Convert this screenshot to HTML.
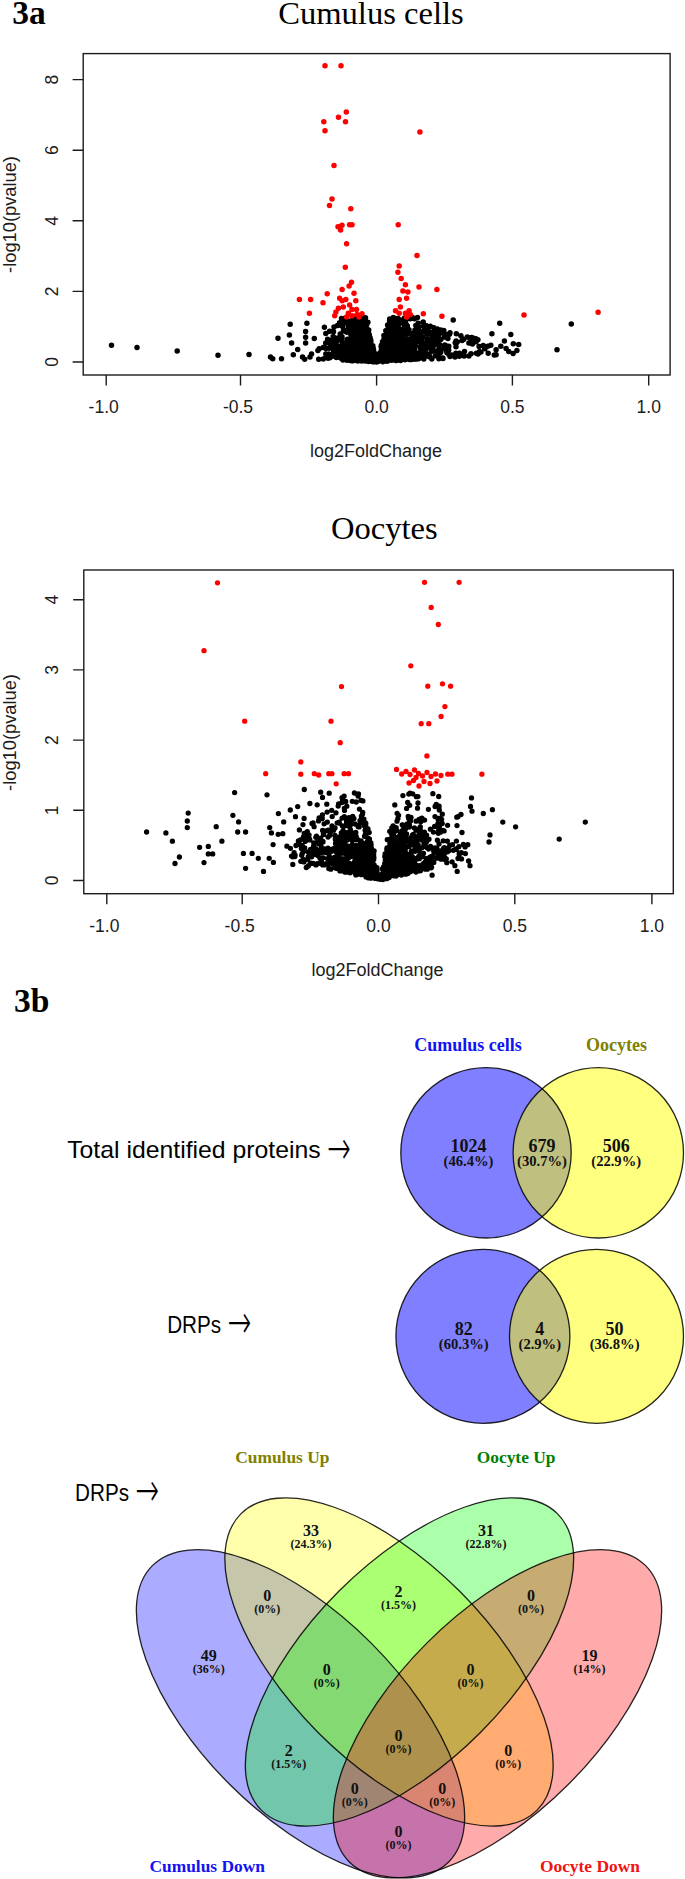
<!DOCTYPE html>
<html lang="en"><head><meta charset="utf-8"><title>Figure 3</title>
<style>html,body{margin:0;padding:0;background:#fff}body{width:685px;height:1879px;overflow:hidden;position:relative}svg{position:absolute;left:0;top:0;display:block}text{white-space:pre}</style></head><body>
<svg width="685" height="1879" viewBox="0 0 685 1879">
<rect width="685" height="1879" fill="#fff"/>
<g font-family='"Liberation Serif", serif' font-weight="bold" font-size="33.5" fill="#000">
<text x="12.2" y="24">3a</text><text x="14" y="1012.2">3b</text></g>
<!-- volcano plot: cumulus cells -->
<rect x="83.2" y="53.6" width="586.9" height="321.4" fill="#fff" stroke="#1c1c1c" stroke-width="1.4"/>
<path d="M106.2 375.0v10.6M240.5 375.0v10.6M376.6 375.0v10.6M512.4 375.0v10.6M648.7 375.0v10.6M83.2 362.0h-10.6M83.2 291.4h-10.6M83.2 220.8h-10.6M83.2 150.2h-10.6M83.2 79.6h-10.6" stroke="#1c1c1c" stroke-width="1.4" fill="none"/>
<g font-family='"Liberation Sans", sans-serif' font-size="17.5" fill="#1c1c1c" text-anchor="middle">
<text x="103.7" y="413.0">-1.0</text>
<text x="238.0" y="413.0">-0.5</text>
<text x="376.6" y="413.0">0.0</text>
<text x="512.4" y="413.0">0.5</text>
<text x="648.7" y="413.0">1.0</text>
<text transform="translate(57.6 362.0) rotate(-90)">0</text>
<text transform="translate(57.6 291.4) rotate(-90)">2</text>
<text transform="translate(57.6 220.8) rotate(-90)">4</text>
<text transform="translate(57.6 150.2) rotate(-90)">6</text>
<text transform="translate(57.6 79.6) rotate(-90)">8</text>
<text x="376.1" y="456.5" font-size="18">log2FoldChange</text>
<text transform="translate(16.2 214.5) rotate(-90)" font-size="18.3">-log10(pvalue)</text>
</g>
<text x="278.2" y="23.6" font-family='"Liberation Serif", serif' font-size="32.6" fill="#000">Cumulus cells</text>
<path d="M571.3 324h0M557 349.8h0M453.2 320h0M499.7 323.3h0M491.9 333.7h0M510.8 334.4h0M513.3 343.7h0M518.7 344.4h0M504.4 340.9h0M508.7 351.6h0M500.8 346.2h0M111.5 345.2h0M137 347.4h0M177.2 350.9h0M218 355.3h0M249 354.4h0M270.5 357h0M272.7 358.8h0M281.5 358.8h0M278 338.2h0M290.2 324.2h0M289.4 335.1h0M291.6 343h0M297.7 349.6h0M293.3 354.8h0M306.9 323.3h0M305.6 331.6h0M305.6 337.3h0M305.6 343h0M302.5 357h0M304.7 359.2h0M310 357h0M318.7 359.2h0M314.3 338.6h0M324.4 327.2h0M366.1 337.6h0M353 360.8h0M368 359.7h0M341 357.8h0M358.6 330.6h0M367 360.5h0M374.2 358h0M365.1 329.6h0M351.2 336.8h0M363.5 325.8h0M371.8 350h0M365.2 320.5h0M366.4 344.8h0M369.3 335h0M364.1 333.3h0M346.4 342.6h0M354 327.3h0M336.9 351.4h0M364.4 358h0M365.9 346.2h0M365.3 359.3h0M373.2 347.9h0M369.3 353.6h0M366.2 340.9h0M367.6 331.5h0M352.9 360.2h0M333.7 346.2h0M352.7 360h0M358.5 354.6h0M371.2 358.6h0M333.5 331.8h0M370.1 352.8h0M352.8 359.1h0M371.9 348.7h0M371.1 361.3h0M365.9 338.1h0M371.6 347.5h0M340.2 349.3h0M361.7 361.1h0M360.7 343.2h0M323.3 347.6h0M373.1 353.8h0M373.1 359.2h0M345.2 317.9h0M356.8 355.8h0M343.3 346h0M344.2 356.1h0M365.8 356.8h0M366.1 336.7h0M355.7 343.9h0M370.3 352.8h0M363.9 353.3h0M375.9 357.5h0M354.6 348.1h0M336.4 344.7h0M353.7 339.9h0M376.6 361.9h0M365.7 321h0M355.5 349.5h0M341.4 358.4h0M364.2 352.9h0M349.2 339.6h0M366.8 324.5h0M361.5 336h0M370 343.5h0M368.8 353.3h0M343.9 356.7h0M367 345.9h0M370.8 344.1h0M366 348.8h0M345.6 343.6h0M362.3 339.2h0M363.4 358.5h0M364.9 335.1h0M373.2 359.6h0M351.3 359.2h0M348 359.8h0M358.3 336.4h0M371.5 352.1h0M361.4 358.3h0M374.5 360.4h0M360.1 351.1h0M368.4 361.4h0M363.8 341.5h0M372.8 358.4h0M366.7 346.1h0M353.6 348.7h0M362.7 348.4h0M360.5 357.6h0M355 351.5h0M353.7 351h0M364.2 352.3h0M372.5 350.2h0M355.9 341.6h0M360.2 359h0M376.7 360.6h0M362.3 317.9h0M367.7 346.3h0M356.6 329.3h0M353.4 319.9h0M358 357.2h0M337.5 325.5h0M354.1 353.7h0M363.4 358.5h0M361.9 336h0M354.2 340.7h0M351.5 359.8h0M368.7 354.7h0M352.1 346.7h0M354.1 359.4h0M356.3 352.7h0M350.7 352.1h0M365.6 351.1h0M346.7 342.1h0M343.4 354.9h0M360.9 354.5h0M371.8 354.5h0M356.6 357.5h0M374.7 353.6h0M364.6 349.9h0M367.9 322.3h0M372 346.1h0M356.9 333.7h0M361.5 360.4h0M365.9 352.9h0M327.6 339.3h0M342 336.7h0M343.6 343h0M366.4 329.1h0M329.9 357.7h0M362.2 348.6h0M373.1 352.4h0M317.9 350.6h0M366.8 356.4h0M365.9 355.2h0M360.4 318h0M354.5 347h0M363.6 360h0M366.2 339.8h0M373.5 352.9h0M360.3 343.2h0M341.3 322.7h0M339.2 352.9h0M362.3 325.6h0M355.4 321.4h0M328.7 357.6h0M355.2 358.2h0M351.8 338.4h0M365.4 332.8h0M367.2 350.6h0M369.2 341.5h0M366.8 352.6h0M366.8 339.7h0M362 353.7h0M362.3 340.2h0M325.8 354h0M350.3 357h0M331.6 354.4h0M372.7 360h0M366.3 347.1h0M359 356.1h0M357.3 357.8h0M370.9 341.6h0M357.8 361h0M363.2 360.7h0M342.9 359.9h0M341.2 348.8h0M348.2 352.3h0M369.3 349.9h0M361.5 341.5h0M364.7 344.1h0M361.2 319.4h0M362.1 349.8h0M364.5 317.6h0M370.3 359.9h0M360.2 359.2h0M362.2 344.9h0M358.8 357.9h0M350.9 350.9h0M352.4 354.9h0M351.7 353.1h0M355.9 349.5h0M371.8 351h0M374 355.3h0M333.8 347.2h0M352.2 343.1h0M368.1 358.4h0M373 357.2h0M356.8 352.7h0M365.3 326h0M363.7 336.8h0M359.7 336.6h0M364.2 359h0M369.7 351.4h0M366.5 348h0M356.5 355h0M364 345.4h0M351.5 347.3h0M361.1 357h0M328.1 358.3h0M363.1 357.7h0M347.7 356.5h0M349.4 354h0M354 355.6h0M343.6 345.8h0M368.9 353h0M370.1 360.8h0M355.5 336.6h0M357.4 350.4h0M357.3 327.8h0M365.8 343.7h0M358.7 353.5h0M364 341.6h0M373.7 357.6h0M357.5 339.3h0M364.4 329.9h0M339.7 339.7h0M372.7 355.2h0M337.5 340.5h0M369.1 356.5h0M371 357.1h0M360.8 360.8h0M350.2 325.8h0M333.9 356.1h0M357.2 329.9h0M367.5 358.5h0M361.4 352.2h0M367.6 343.4h0M370.4 352.7h0M348.5 327.4h0M359.4 344h0M366.7 328.4h0M361.2 353.9h0M364.5 333.7h0M359.6 357.4h0M359.9 353.1h0M367.4 335.7h0M358.6 320h0M373.5 353.4h0M373.8 357.1h0M357.1 329.4h0M361 355.9h0M353.4 353.6h0M358.7 324.3h0M346.1 322.5h0M369.5 338.5h0M341.9 354.2h0M341.5 318.4h0M363.1 353.3h0M363.9 330.4h0M346.5 341.9h0M362.6 321h0M359 350.3h0M371.1 357h0M338 348.6h0M366.3 324.1h0M348.4 359.8h0M365.7 358.2h0M348.7 330.3h0M371.4 354.7h0M373.2 352.6h0M353.1 339.7h0M355.2 343.8h0M372.9 348.5h0M373.6 359h0M352 340.5h0M353.7 352.4h0M343.6 351.4h0M369.2 358.3h0M353 359.3h0M364.7 330.6h0M341.1 345.7h0M371.3 361.2h0M353.2 317.6h0M366 356.6h0M361.5 327.5h0M356.8 334.5h0M333.3 353.4h0M366.5 350.6h0M370.2 356.6h0M366.7 349.4h0M366.9 355.3h0M360.8 320.6h0M367.4 346.6h0M374.8 355.1h0M354.1 358.4h0M372.8 345.8h0M360.9 357.1h0M359.3 345.5h0M357.9 334.9h0M364.6 344.6h0M357.5 329.4h0M351 350.1h0M364.1 322.3h0M354.4 345.3h0M364.7 328.2h0M371.3 346.4h0M352.7 358.6h0M367.6 337.3h0M363.1 325.4h0M332.1 348h0M333.6 351.8h0M354.7 344.7h0M341.9 338.2h0M370.3 354.4h0M365.9 341.9h0M348.5 353.9h0M359.4 336.8h0M351.3 352.1h0M343.7 352.7h0M354.4 329.8h0M365.5 330.1h0M373.3 352.9h0M364.8 348.5h0M345.5 356.2h0M355.4 332.2h0M366.4 338h0M345.6 343.7h0M361.2 353.5h0M365.3 340.5h0M335.6 342h0M361.2 359.5h0M347.4 339.3h0M343.4 330.8h0M360.8 338.3h0M358.8 354.5h0M364.3 351h0M356 351.9h0M355.5 349.2h0M345.4 350.7h0M352 360.7h0M370.5 350.6h0M375.2 355.3h0M354.2 330.7h0M357.8 333.2h0M369.7 342.5h0M345.9 358.6h0M360.4 335.8h0M342.9 350.6h0M367.6 329.4h0M356.2 360.2h0M352.7 345.1h0M375 361.8h0M374.1 357.9h0M339.9 357.6h0M354.1 321.6h0M375.8 360.4h0M363.3 322.3h0M368.2 342.4h0M373.6 350.2h0M369.1 356.2h0M369.6 347.4h0M353.4 347.7h0M346.5 330.4h0M360.7 360h0M362.2 344.2h0M366.1 347h0M349.6 351.4h0M358 348.5h0M333.1 336.4h0M342.8 353.5h0M366.5 354.6h0M355.4 317.8h0M352.7 333.7h0M373.8 355.2h0M357.5 338.9h0M356.6 347.1h0M351.5 356.6h0M348.9 348.6h0M349.2 352.4h0M337.3 352.7h0M373 359.2h0M364.1 336.1h0M363.5 359.9h0M370.6 352.6h0M342.7 326.8h0M335.2 343.1h0M311.5 354h0M362.8 352.6h0M350.2 360.5h0M346.9 360.2h0M325.8 333.6h0M362 352.6h0M365.4 341.1h0M365.2 321.9h0M328.7 354.1h0M368.1 343.2h0M360.5 342.9h0M346.9 357.1h0M372.9 360.1h0M373.2 352.2h0M362.9 349.1h0M376.1 358.1h0M334 326.9h0M361.1 341.4h0M368.4 351.1h0M372.7 360.1h0M319.2 348.8h0M336.2 338.2h0M371.6 357.3h0M373.8 359.4h0M363.2 332.2h0M364.5 359.8h0M369.9 345.3h0M339.9 349h0M363.3 347.5h0M356.1 343.3h0M362.4 346.7h0M346.3 360h0M352.9 339.1h0M362.1 355.6h0M374.1 352.8h0M375.4 361.4h0M353.8 323.5h0M375.8 357.8h0M370.7 339.9h0M361.2 357.3h0M360.1 318.4h0M357.3 344.7h0M369 338.3h0M342.1 348.9h0M363.6 349h0M354.4 338h0M368.7 330.1h0M329.6 331.2h0M364.2 338.7h0M360.2 350.4h0M371.8 357.9h0M352.1 352.1h0M370.1 337.8h0M369 351h0M369.1 351.2h0M362.9 332.1h0M365.4 336.8h0M358.8 353.2h0M370.4 343.6h0M359.4 319.8h0M362.1 353.9h0M364.6 326.3h0M353.5 338.8h0M344.6 318.8h0M339.6 322.8h0M371.3 357.7h0M340.2 334h0M360.6 342.9h0M363.9 321.2h0M355.8 346.6h0M362.2 343.3h0M356.5 350.5h0M351.7 359.1h0M364.1 349.6h0M348.3 354.7h0M350.5 338.9h0M368.7 347.9h0M357.4 348.3h0M365.4 358.7h0M353.5 345.7h0M357.1 340.8h0M325.9 348.6h0M331.8 344.6h0M363.2 355.6h0M349.6 355h0M360.6 336.4h0M355.9 334.9h0M368.4 358.4h0M354 331.8h0M369.2 352.1h0M359.7 343h0M367.3 360.2h0M329.4 343.6h0M349.9 352.9h0M338.5 350h0M349.4 340.3h0M355.6 350.3h0M338.8 353.1h0M359.5 335.8h0M370.6 357.8h0M372.6 348.3h0M370.8 353.4h0M360.7 327.3h0M358.3 358.9h0M363.3 339.7h0M325.7 342.9h0M360.9 333.9h0M347.5 357.8h0M372.6 346.6h0M360.1 346.3h0M369.5 355.8h0M363.4 358.3h0M348.3 347.7h0M369.5 357.7h0M345.2 357.5h0M366.8 345.1h0M359.9 323.8h0M365.6 330.5h0M360.6 358.1h0M373.8 360.7h0M343.1 356.4h0M370.2 360.7h0M357.1 329.7h0M362.2 321.9h0M353.3 343.9h0M366.7 354.5h0M367.9 344.5h0M344 330.6h0M345.5 344.2h0M351.6 360.6h0M350 329.8h0M369.6 354.9h0M354.9 326.7h0M351.4 353.2h0M329.3 348.2h0M359.6 349.1h0M355.4 336.8h0M361.5 333h0M372 351.1h0M367.9 354.7h0M363.1 358.2h0M357 356.2h0M373.2 361.7h0M368.1 335.7h0M354.1 355.3h0M375.6 361.7h0M353.1 328.4h0M376.9 361.1h0M344 318.9h0M361 349.7h0M340 336.6h0M369.3 360.7h0M363.2 330.6h0M331.9 340.3h0M367.1 334.4h0M361.9 325h0M323.3 359h0M357.1 343.6h0M371.9 351.4h0M354.9 339h0M364.9 327.2h0M367.9 343.4h0M361.6 348.4h0M360.7 342.4h0M333.2 331.3h0M346.9 332.2h0M365.2 335.1h0M346.1 350.7h0M363.4 325.9h0M374.8 359.2h0M357.3 344.9h0M356.6 335.6h0M368.2 336.8h0M366.4 358.8h0M364.5 352.8h0M362.5 335h0M357.7 359.6h0M366.5 358.1h0M367.3 346.2h0M370.3 357.3h0M362.3 347.2h0M366.7 344.4h0M344.8 331.2h0M358.5 356.2h0M357.2 325.7h0M346.2 357.8h0M361.1 358.2h0M369.7 355.2h0M367.9 361.3h0M366.3 351.1h0M351.8 346.8h0M358.1 324.8h0M357.4 356.8h0M375.4 355.6h0M370.6 349.3h0M371.7 356.1h0M364.1 349.1h0M361.1 326.7h0M373.5 352.3h0M351.9 338.1h0M346.8 351.5h0M341.4 325.7h0M351.3 336.6h0M358.9 349.6h0M369.9 341.1h0M354.6 335.3h0M370.4 356.1h0M350.8 334.2h0M335.9 355.7h0M366.9 351.7h0M364.3 352.1h0M349.1 328.8h0M363.1 357.3h0M363.2 337.5h0M345.8 354.4h0M364.1 325.9h0M359.4 360.1h0M348 349.1h0M368.6 333.1h0M349.1 321.1h0M366.9 358.9h0M354 359h0M348.2 344.5h0M353.7 328h0M362.6 349.2h0M342.4 342.8h0M326.1 357.5h0M369.7 341.5h0M356.8 353.8h0M372.8 357.4h0M355.8 347.5h0M330.4 355.8h0M365.8 361.1h0M371.1 353.2h0M346.3 348.6h0M348.5 353.9h0M366.9 352.3h0M362.7 329.3h0M362 335.2h0M365.5 317.8h0M364.7 351.5h0M331.7 356.4h0M337.7 354.5h0M355.7 347.8h0M375.8 358.2h0M372.6 361.7h0M356.5 358.7h0M348.4 325.5h0M351.3 322h0M361.4 344.1h0M376.7 361.4h0M359.1 357.9h0M336.4 357.4h0M362.9 356.9h0M347.4 339.9h0M357 348.3h0M368.1 351.9h0M376.4 360.6h0M369 345.3h0M361.9 344.7h0M366 346.4h0M362.3 332h0M369.8 353.2h0M409 349.5h0M387.4 336.7h0M393.1 330.5h0M398 331.9h0M393.7 349.6h0M392.1 331.9h0M411.5 338.5h0M383 354.1h0M401.1 338.4h0M390.5 342.4h0M397 357.8h0M412.1 352.8h0M401.5 338.6h0M407.9 359.1h0M410.7 343h0M389.6 338.6h0M390.8 346.8h0M391.6 354.9h0M389.9 321.8h0M382 349.6h0M385.4 354.8h0M385.1 347.2h0M406.3 343.4h0M381.4 345.3h0M390.1 334.5h0M394.4 355.2h0M397.6 359.7h0M396.5 340.2h0M405.9 342.3h0M389.7 343.6h0M417.6 326.7h0M388.5 359.4h0M387.6 358.6h0M377.8 360.2h0M405.2 322.6h0M408.5 344.8h0M395.2 357h0M417.4 338.8h0M394.6 352.3h0M401.6 344.7h0M386.1 350.5h0M390.9 352.6h0M394.2 340.7h0M394.5 347.5h0M392.2 336.2h0M423.6 350h0M400.8 349.6h0M410.2 333.5h0M386.6 360.1h0M382.5 359.6h0M398.1 335.8h0M421.7 340.1h0M385.4 354.5h0M393.4 357h0M379.9 358.8h0M404.6 352.5h0M393.5 325.2h0M388.9 351h0M393.8 335.9h0M396 356.8h0M381.6 346.8h0M380.7 354h0M397.4 320.6h0M390.7 325.9h0M401.9 351.1h0M385.9 340.9h0M387.3 352h0M384.3 361h0M406.4 328h0M420.5 349.1h0M413 350.7h0M386.3 336.5h0M402.7 358.8h0M382.7 357.5h0M389.9 327.4h0M394 356.1h0M413.6 341.2h0M414.3 358h0M402.1 337.6h0M389.9 337.6h0M389.3 357.7h0M407.2 353.7h0M391.4 356.7h0M398.5 338.8h0M401.8 353.5h0M406.3 324.6h0M384.9 348.7h0M388.8 345.1h0M391.1 320h0M385.8 356.8h0M386.4 354.1h0M415.7 341.2h0M407.6 329.9h0M397 330.8h0M386.5 356.4h0M394 357.4h0M390.5 337.9h0M415.2 352.8h0M391.5 340.4h0M390.7 346.2h0M424.5 345.4h0M401 348.8h0M379.2 358.3h0M403 342.6h0M391.7 354.4h0M394.1 351h0M402.2 352h0M388.6 357.9h0M416.3 355.5h0M389 332.1h0M393 339.5h0M392.4 356.4h0M385.3 352.8h0M393.5 339.1h0M418.7 327.1h0M397.2 330.9h0M397.1 327.6h0M382.6 347h0M398.3 340.1h0M415.8 325.4h0M391.6 343.1h0M404.4 318h0M399.4 349.5h0M421 357h0M390.5 334.7h0M405.3 329.4h0M384.2 344.7h0M403.5 328.8h0M396.2 322.7h0M384 338.9h0M387 356.4h0M386.2 360.3h0M393.7 346.7h0M390.8 350.2h0M380.5 355h0M386.8 352.4h0M381.1 346.5h0M391.8 343h0M401.8 350h0M404.5 326.7h0M382.4 351.8h0M400.4 351.2h0M390.4 352.4h0M416.5 335.4h0M378.8 359.7h0M393.3 317.5h0M410.9 358.3h0M397.8 329.1h0M402.1 346.1h0M397 348.3h0M395.7 338.6h0M390.4 359.8h0M391.9 339.8h0M391.3 345.6h0M402 351.8h0M387.1 356.8h0M417.5 317.4h0M414.5 318.8h0M404.9 328.8h0M400.2 323.3h0M402.1 351.8h0M409.5 351.9h0M401.7 353.9h0M429.9 347.8h0M414.5 349.5h0M395.4 330.5h0M416.7 358.3h0M387.2 330.5h0M390.9 354.2h0M401.8 354.6h0M386.9 361h0M406.1 353.8h0M395.7 349.3h0M393.1 325.5h0M395 342.7h0M385.3 351.4h0M397.7 319.7h0M390.6 323.4h0M382.6 352.2h0M394.8 318.3h0M383.1 359.9h0M382.6 352.3h0M407.4 356.3h0M395.7 360.6h0M385.2 358.6h0M399.7 356.7h0M400.9 357.6h0M401 354.5h0M387.2 361.3h0M427.9 343.8h0M403.6 357.4h0M383.7 346.9h0M382.6 360.6h0M400.8 337.7h0M404.4 340.9h0M392.8 346.7h0M386.7 354.9h0M383.4 359.8h0M399.7 360.2h0M403.5 322.3h0M396.3 328.7h0M381.8 353.7h0M386.8 330.1h0M383 353.3h0M409 329.7h0M378.2 361.4h0M389.7 358.5h0M390.7 356.4h0M419.6 336.2h0M409.5 359.4h0M399 336.9h0M386.3 357.9h0M399.5 354.6h0M422.9 336.9h0M415.2 358.9h0M401.9 358.6h0M411.4 350.5h0M385.8 358.2h0M398.6 332h0M382.5 344.1h0M399.4 343.5h0M424.2 352.7h0M388.4 358.8h0M413.5 351.8h0M422.2 349.3h0M422.3 337.9h0M385.8 330.7h0M394 337.5h0M391.4 328.7h0M417.4 324.8h0M403.6 359h0M423.2 322h0M387.6 325.1h0M398.1 318.5h0M393.9 354.5h0M407.6 333.6h0M379.8 359.8h0M384.6 347.7h0M393.7 325h0M378.9 358.6h0M390.7 345.3h0M410.2 358.8h0M389.1 348.7h0M417.3 353.9h0M394.6 333.9h0M403.9 355.7h0M427.9 346.7h0M412.7 335.2h0M378.7 357.6h0M400 357.3h0M403.5 352.8h0M387.7 352.9h0M392.6 346.6h0M396.3 360.4h0M385.4 361.1h0M390.8 358.1h0M379.5 358h0M386.6 355.9h0M387.3 359.8h0M385.1 354h0M418.9 358.3h0M387.2 338.4h0M398 354.4h0M415.4 352.2h0M411.4 359.5h0M385.8 349.8h0M387.9 357.9h0M394.8 341.1h0M408.7 339h0M392.6 340h0M394.5 319.2h0M426.7 347.4h0M391.4 359.3h0M400 357.2h0M397.7 325.9h0M401.8 340.5h0M387.7 354.8h0M381.4 349.7h0M404.1 356.4h0M406.9 352.5h0M387.6 357.9h0M389.5 356.9h0M381.2 360.1h0M391.5 342.9h0M413.8 352h0M381.1 358.5h0M392.1 358.1h0M398.6 327.9h0M421.3 355.2h0M399.8 355.6h0M394.1 352.6h0M394.9 326.1h0M396.9 319h0M382.9 361.7h0M392.1 328.9h0M392.6 354.6h0M422.5 353.6h0M388.3 347.8h0M388.5 352.2h0M391.8 344.7h0M393.9 334.3h0M395.2 323.3h0M386.7 355.9h0M409.6 356.4h0M418.2 323.2h0M389.5 350.6h0M402.3 333.8h0M404 320.9h0M379.7 359.7h0M406.9 352.2h0M381.5 358.1h0M388.9 338.5h0M393 344.8h0M384.5 359h0M393.2 320.5h0M396.1 346.5h0M404.7 353.7h0M381.2 358.9h0M392.4 335.6h0M387.3 358.4h0M404.1 353.2h0M401 321.1h0M389.6 321.1h0M395.2 356.6h0M394.8 332.1h0M402.1 356.8h0M391.2 358h0M403.3 358.4h0M396.1 352.7h0M393.5 354h0M382.2 347.2h0M422.7 331.4h0M399.5 342.7h0M394 331.3h0M394.8 359.7h0M380.2 359.2h0M400.3 358.9h0M382.9 357.4h0M388.9 337.9h0M382.8 356.1h0M400 353.2h0M389.7 319.1h0M430.8 332.6h0M386.5 342.1h0M388.6 358.4h0M385.9 352.6h0M402.6 349.7h0M411.5 318.6h0M397.8 346.9h0M384 345.2h0M412.2 317.3h0M407.6 357.4h0M405.5 349h0M410.1 318.7h0M416.5 328.4h0M396 342.7h0M386 354.3h0M420.2 352.9h0M381.6 353.8h0M409.7 355h0M391.9 345.7h0M395.1 330.2h0M382.5 341.8h0M395.9 334.9h0M412 338.8h0M398.5 344.9h0M384.7 347.7h0M387.8 360.9h0M408.7 344.2h0M391.4 338.4h0M382.1 354h0M421.4 343.9h0M389.7 354.8h0M425.7 349.3h0M387.8 340h0M402.4 357.1h0M388.8 347.7h0M403.8 344.5h0M405.9 352.5h0M400.1 341.9h0M384.7 353.4h0M412.5 338.9h0M414.7 354.8h0M405.5 321.5h0M385.3 351.9h0M426.6 343.4h0M394.1 359.7h0M382.5 342.4h0M396.3 353.1h0M409 356.4h0M390.8 356.4h0M389.7 359.2h0M387.5 355.6h0M400.8 343.6h0M429.3 341.7h0M384.6 345.6h0M395.2 324.7h0M386.4 356.7h0M410.7 345.7h0M412.8 350.7h0M407.4 357h0M400.1 333.7h0M408.1 348.8h0M398.2 355.6h0M393.1 337.9h0M389.5 329.6h0M387.9 332.2h0M395.9 352.4h0M390.6 337.4h0M397.2 356.5h0M413.8 357h0M391.6 360.1h0M423.8 359h0M392.6 343.9h0M380.4 358.2h0M389.7 326.5h0M404.2 347.8h0M397 352.7h0M411.2 355.9h0M384.7 360.9h0M384.4 342.9h0M404.7 332.8h0M388.4 355.9h0M389.5 339h0M404.9 335.2h0M393.8 345.3h0M425.2 331.7h0M391 347h0M410.3 349.8h0M400.5 340.7h0M402.2 356.9h0M419.6 333.9h0M409.3 358.6h0M396.8 358.2h0M409.9 352.6h0M389.7 328.8h0M411.9 354.3h0M402.3 344.3h0M390.4 342.6h0M411.4 345.7h0M404.2 319.2h0M417.1 359.1h0M405.1 355.5h0M387.4 340h0M386.7 356.3h0M414.8 352.9h0M383.4 354.1h0M414.9 330.3h0M391.6 358.7h0M392.1 353.6h0M425 356.4h0M388.8 336.3h0M383 341.8h0M387.5 352.1h0M411.9 333.7h0M417.9 357.2h0M398.2 336.8h0M381.6 361.1h0M389.8 330.5h0M396.1 330.1h0M398.2 347.8h0M401.8 350.7h0M379.3 359.9h0M435.5 336.4h0M407.3 326h0M384.1 344.3h0M391.8 355.7h0M378.4 358.6h0M405 359.8h0M404.8 352h0M400.2 347.6h0M399.8 356.4h0M399.3 336.5h0M390.7 357.1h0M387 356.9h0M389.4 335.9h0M380.9 360.1h0M417.6 341.4h0M396.1 354h0M385.4 349.2h0M401.5 353.1h0M395.3 323.1h0M380.5 357.9h0M382.5 358.6h0M382.6 356.2h0M402.6 344h0M402.7 345.9h0M394.6 349h0M384.6 345.7h0M390.7 344.1h0M398 340.7h0M392.3 326.8h0M389 341h0M391.7 360.2h0M389.7 321.2h0M378.9 359h0M399.3 348.1h0M398.9 329.2h0M390.4 338.8h0M383 348.9h0M406.1 354h0M405.2 355.5h0M392.9 351.7h0M388.1 338.9h0M398.2 351.1h0M412.2 354.4h0M400.3 320h0M405.3 353.5h0M395.6 330h0M404.1 351.9h0M415.6 353.7h0M385.4 358.3h0M402.2 340.8h0M403 343.6h0M400.2 355.6h0M431.3 351.5h0M383.5 347.1h0M396.4 345.9h0M390.6 352.6h0M393.5 330.9h0M391.1 354.9h0M395.4 339.3h0M400.4 354.4h0M387.5 358.1h0M379.8 353.1h0M419.9 347h0M388.6 352h0M415.1 341.3h0M397.2 353.8h0M392.2 346.4h0M400.1 358.5h0M400.6 359h0M395.1 323.5h0M389.8 340.4h0M388.4 347.9h0M420.3 331.7h0M386.1 347.4h0M392 349.4h0M396.4 347.8h0M394 327.3h0M404.4 345.5h0M400.5 347.1h0M401.8 355h0M378.9 357.3h0M408.4 356h0M388 357.4h0M402.5 331.5h0M389 336.9h0M391.1 343.4h0M383.9 335.4h0M411.7 352.1h0M383.3 355.8h0M402 354.8h0M381.4 359.6h0M386.5 351h0M401.8 343.6h0M386.6 336.5h0M381.1 351.5h0M391.5 353.9h0M397.2 339.3h0M383.1 361.1h0M421.6 348.4h0M389.3 338.4h0M381.7 355h0M401.2 358.9h0M408.9 329.9h0M397.6 354.2h0M418.1 330.8h0M394.6 343.8h0M386.5 356.9h0M391.6 356.9h0M393.2 334.6h0M403.9 343.6h0M427 354.9h0M401.6 354.2h0M388.7 350.4h0M405.3 341.2h0M397.9 356.7h0M403.3 320h0M400.5 360.4h0M414.4 359.2h0M398.8 352.8h0M390.2 342.3h0M385.5 358.2h0M382.9 345.1h0M391.9 359.6h0M389 339.2h0M391.5 341.5h0M415.3 345.4h0M402.6 335.9h0M391.7 336.1h0M384.6 359.4h0M418.2 330.2h0M388.5 350.7h0M397 327.9h0M402 343.5h0M393.3 357.6h0M388.5 351.3h0M402.8 358.1h0M398.4 347.4h0M397.4 345h0M392.9 338.5h0M398.1 343.8h0M405.4 346.1h0M379.1 360.6h0M399.6 351.7h0M405 343.3h0M391.4 322h0M388.9 347h0M381 356.8h0M386.2 357.3h0M401.9 344.9h0M379.6 360.5h0M418.7 358.7h0M393.2 358.6h0M404.3 340.2h0M393.5 334h0M384 351.8h0M410.7 340.2h0M397.2 358.1h0M446.2 334.5h0M438.6 345.1h0M496.1 349.8h0M516.9 350.4h0M450 356.5h0M488.2 353.2h0M433.1 338.1h0M430.4 343.3h0M464.1 355.9h0M458.6 355.6h0M444.4 336.9h0M430.3 326.3h0M439.5 344.6h0M438.7 335.3h0M467.3 336.9h0M440.1 339.7h0M447 352.7h0M443.8 330.4h0M432.3 333.7h0M433.5 332.2h0M444.4 348.5h0M438.3 331.8h0M459.4 353.3h0M428.9 339.7h0M431.1 347.7h0M426.9 353.9h0M464.5 351.5h0M484.7 347.9h0M484.9 348.8h0M433.5 345.7h0M423.8 344.3h0M438.9 358.7h0M487.8 346.3h0M423.4 326.3h0M431.8 350.5h0M424.2 355.8h0M463.7 339.2h0M446.2 350.7h0M494.3 354.9h0M462.1 340.4h0M478 353.9h0M448.7 350.1h0M440 352.6h0M463.5 339.6h0M472.6 337.7h0M477.9 339.8h0M438.5 355.7h0M436.6 335h0M472.4 343.9h0M443.6 333.2h0M435.8 355.4h0M432.7 335.8h0M496.1 354.8h0M428.1 342.3h0M442.6 332h0M455.9 353.2h0M429.6 356.6h0M443 358.6h0M444.7 345.1h0M440.8 330.1h0M472.7 339.1h0M432.2 348.7h0M445.4 345.6h0M457.2 341.9h0M436.1 338.4h0M430.7 347.7h0M423.8 356h0M425.2 344.7h0M439.1 350.2h0M455 356.9h0M448.8 346.3h0M445.4 345.3h0M426.9 334.1h0M475.9 338.7h0M427.4 338.7h0M433.9 327.7h0M432.6 339.4h0M438.9 349h0M470 338.1h0M436.5 340.6h0M424.3 343.4h0M449.5 334.3h0M455.2 342.8h0M456.1 340.9h0M423.8 348.2h0M432.2 346.1h0M431.7 335h0M447.9 338.4h0M436.2 339.1h0M432.6 341.5h0M439.2 347.3h0M476.4 353.2h0M450 332.7h0M433.7 342.3h0M513.1 353.6h0M483.2 345.6h0M425.5 347.9h0M428.9 354.6h0M435.2 335.2h0M451.7 355h0M476.1 341.8h0M428.4 331.1h0M479.4 351.8h0M431.8 359.1h0M426.7 332.9h0M471.7 337.5h0M436.3 330.6h0M506.1 348.4h0M460.9 335.7h0M433.9 350.6h0M448.9 354.5h0M432.4 335.3h0M459.8 355h0M435.3 355.8h0M434.2 332.8h0M443.8 331.3h0M429 355.5h0M437.4 329h0M429.1 356.7h0M468.9 356h0M459.3 356.3h0M432.6 336.5h0M490.8 345.2h0M442.8 358.1h0M436.9 350.9h0M473.4 341h0M462.5 354.8h0M439.2 349.1h0M434.2 333.9h0M431.2 348h0M434.2 329.6h0M456.5 342.7h0M433 350.3h0M426.9 342h0M471 353.8h0M444.7 346.1h0M438.7 354.9h0M456.3 333.8h0M435.3 341.5h0M434.4 343.9h0M428.2 327.6h0M424.2 330.1h0M479.1 346.4h0M480.9 351.9h0M468.9 343.1h0M440.6 352.4h0M426.4 325.7h0M431.5 346.3h0M440.8 339.4h0M456 346.7h0" stroke="#000" stroke-width="5.5" stroke-linecap="round" fill="none"/>
<path d="M325 65.8h0M341 65.8h0M346.3 112h0M338.5 117.3h0M323.8 121.8h0M345.5 121.8h0M325 130.8h0M419.9 132h0M334 165.5h0M332 199h0M329.5 205.6h0M350.8 208.8h0M338 226.8h0M342 225.2h0M349.6 224.8h0M352 224.8h0M398.2 224.8h0M340.6 230h0M346.6 243.7h0M345.3 267.3h0M351.5 282.2h0M349.1 285.9h0M342.1 289.6h0M327.2 293.8h0M354 293.3h0M299.4 299.6h0M310.6 299.6h0M323 302.8h0M339.6 298.3h0M342.1 300.8h0M345.8 299.6h0M355.8 300.8h0M349.6 305h0M338.4 308.2h0M343.3 307h0M352 309.5h0M356.5 309.5h0M335.9 312h0M348.3 313.2h0M362 313.7h0M357 314.4h0M309.4 313.2h0M334.7 315.7h0M346.6 316.9h0M352 315.7h0M359 316.9h0M417 255.4h0M399.2 266.1h0M397.9 272.3h0M401.2 278.5h0M405.4 284.7h0M419 287.1h0M436.9 289.6h0M402.9 290.9h0M407.9 292.1h0M406.6 298.3h0M399.2 299.6h0M400.4 307h0M409.1 310.7h0M405.4 313.2h0M395.5 310.7h0M399.2 313.2h0M410.3 314.4h0M423.3 313.7h0M441.9 316.2h0M406.6 316.9h0M524 315.1h0M598.1 312.3h0" stroke="#f00" stroke-width="5.5" stroke-linecap="round" fill="none"/>
<!-- volcano plot: oocytes -->
<rect x="83.8" y="570.0" width="589.5" height="323.7" fill="#fff" stroke="#1c1c1c" stroke-width="1.4"/>
<path d="M106.8 893.7v10.6M242.2 893.7v10.6M378.5 893.7v10.6M514.8 893.7v10.6M651.9 893.7v10.6M83.8 880.5h-10.6M83.8 810.3h-10.6M83.8 740.1h-10.6M83.8 669.9h-10.6M83.8 599.7h-10.6" stroke="#1c1c1c" stroke-width="1.4" fill="none"/>
<g font-family='"Liberation Sans", sans-serif' font-size="17.5" fill="#1c1c1c" text-anchor="middle">
<text x="104.3" y="931.5">-1.0</text>
<text x="239.7" y="931.5">-0.5</text>
<text x="378.5" y="931.5">0.0</text>
<text x="514.8" y="931.5">0.5</text>
<text x="651.9" y="931.5">1.0</text>
<text transform="translate(57.6 880.5) rotate(-90)">0</text>
<text transform="translate(57.6 810.3) rotate(-90)">1</text>
<text transform="translate(57.6 740.1) rotate(-90)">2</text>
<text transform="translate(57.6 669.9) rotate(-90)">3</text>
<text transform="translate(57.6 599.7) rotate(-90)">4</text>
<text x="377.6" y="975.8" font-size="18">log2FoldChange</text>
<text transform="translate(16.2 732.5) rotate(-90)" font-size="18.3">-log10(pvalue)</text>
</g>
<text x="330.9" y="539.4" font-family='"Liberation Serif", serif' font-size="32.6" fill="#000">Oocytes</text>
<path d="M146.6 832h0M165.9 832.9h0M172.4 841.2h0M179.4 857h0M175 863.5h0M188.2 813.1h0M187.3 821h0M187.3 827.6h0M199.6 847.3h0M204 862.6h0M208.3 846.4h0M208.3 853.9h0M212.7 853.9h0M216.2 826.7h0M221.9 841.2h0M234.6 792.6h0M232.9 815.3h0M238.6 821.9h0M237.7 832h0M245.6 832h0M243.4 853.4h0M252.1 853.4h0M245.6 868.3h0M258.3 858.3h0M263.5 871.4h0M267 794.8h0M269.7 827.6h0M271.4 832.9h0M269.2 858.3h0M278.4 813.6h0M283.7 821.9h0M290.3 810h0M297.7 806.6h0M295.5 816.7h0M304.3 789.5h0M585.3 822.1h0M559.2 839.1h0M515.6 826.8h0M502.8 822.1h0M492.4 809.7h0M483.3 813.5h0M472 811.2h0M470.5 806.4h0M471.5 797.9h0M461 814.5h0M490 834.9h0M489 842h0M462 832.5h0M463.4 844.4h0M468.6 861h0M470 865.7h0M454.9 865.7h0M457.2 871.4h0M432.1 875.2h0M363.9 858.5h0M357.1 855.3h0M365.7 825.2h0M321.2 846.9h0M354.6 870.8h0M369.6 858.6h0M352.2 844.6h0M338 842.4h0M344.9 867.2h0M366.6 845.7h0M369.8 869.5h0M327 830.7h0M378.9 878.3h0M360.5 873.6h0M354.2 834.3h0M370.7 844.3h0M354.5 869.5h0M365.8 823.4h0M358.3 862.9h0M360.7 844.5h0M351.1 870h0M363.4 849.8h0M371.4 848.2h0M349.4 857.3h0M362 874.6h0M360 820.7h0M338.3 861.3h0M374.7 870.1h0M315.7 848.6h0M321.1 851.7h0M354.4 793h0M365.7 873.7h0M313.8 842.9h0M371.1 845h0M363.2 852.8h0M358.5 794h0M309.8 839.9h0M350 825.6h0M348.6 850.6h0M339.4 847.6h0M342.9 844.7h0M331.3 863.2h0M334.1 850h0M364.8 848.2h0M371.5 856.4h0M373.2 872.6h0M329.5 860h0M345.8 866.6h0M365.5 822.9h0M338.2 806h0M361.6 816.8h0M355.2 869.1h0M348.1 872h0M369.3 846h0M307.7 859.4h0M363 850.8h0M377.3 875.4h0M377.6 878.8h0M356.9 859.7h0M317.9 840h0M342 847h0M322.5 797.4h0M358.1 796h0M303 824.6h0M344.1 858.6h0M361.1 820.6h0M316.5 836.1h0M362.7 812.5h0M341.1 852.4h0M357.4 857h0M365.5 866.2h0M364.6 855h0M361.4 816.2h0M346 834.7h0M373.7 854.5h0M346.5 863.7h0M315.7 854.4h0M362.8 856.8h0M348.9 821.1h0M348.1 857.8h0M352.8 871.5h0M375.5 866.9h0M365.3 834.4h0M366.2 855.4h0M363.1 860.3h0M331.8 861.8h0M364.5 845.5h0M356 854h0M327.3 822.1h0M346.8 871.9h0M362.7 870.9h0M365.1 870h0M358.2 825.7h0M342.1 862.4h0M352.1 840.2h0M343 830.7h0M347.2 839.9h0M371 855.1h0M363.5 872.5h0M371.2 858.7h0M358.1 855.1h0M338.7 848.3h0M355.5 873.5h0M304.2 833.3h0M371 855.3h0M356.2 802h0M356.5 845.7h0M301.4 848.4h0M362.9 800.9h0M341 838.8h0M337.8 865.8h0M341.1 844.8h0M376.8 871.2h0M360.7 842.7h0M347.3 853.8h0M320.7 838.1h0M323.4 833.4h0M371.3 862.5h0M366 876.9h0M342 797.6h0M374.1 851h0M322.6 830.5h0M357.5 858.1h0M369.1 856.5h0M343.9 861.3h0M347.5 868.7h0M356.8 851.6h0M373.9 857.7h0M329.6 835.5h0M304.7 848h0M369.4 846.1h0M366.5 860h0M348.7 849.9h0M314.1 826.7h0M322.7 864.9h0M358.4 849.1h0M330.9 831.4h0M365.3 869.4h0M346.7 872.2h0M346 832.6h0M360.9 822.4h0M351.3 822.2h0M364.9 843.3h0M355.8 832.4h0M333.4 860.9h0M331.6 851.3h0M365.7 828.1h0M347.7 872.1h0M349 835.2h0M362.3 868.8h0M338.1 864.5h0M328.1 837.1h0M331.9 860.3h0M367.3 862.6h0M345.7 801.5h0M354.2 864.7h0M349.6 863.3h0M312.1 853.2h0M350.8 851.5h0M374.6 868.9h0M295.1 855.1h0M335.5 843.5h0M332 826h0M365.5 845.2h0M369.2 832.4h0M350.5 829.7h0M323 841.3h0M315.8 837.3h0M364.2 861.9h0M339.3 823h0M309.9 803.5h0M347.7 837h0M340.9 861.3h0M325.9 864h0M367.2 868.4h0M335 828h0M347.1 867.4h0M318.5 820.9h0M294.1 852.7h0M330.8 869.2h0M370.9 842.9h0M333.2 864.2h0M366.2 866.9h0M359.4 809.1h0M322.4 814.8h0M351.2 836.3h0M363.3 857.5h0M327.1 812.1h0M364.3 825.8h0M363.9 819.1h0M370.4 853h0M337 867.4h0M315.9 864.9h0M366.1 876.6h0M353.9 818.4h0M339.7 837h0M354.1 863.9h0M356.8 868.1h0M341.4 834.4h0M329.8 835.3h0M361.5 818.9h0M367.8 840.8h0M365.3 873.5h0M370.6 855.3h0M371.3 863.4h0M303.9 861.9h0M342.3 825.8h0M373.2 866.4h0M344.3 826h0M345.4 847.3h0M370.2 852.6h0M291.5 856.1h0M351.9 855h0M356.1 845.9h0M352.8 850.3h0M364 866.5h0M328.8 851.7h0M328.8 868.5h0M326 852.6h0M360.3 841.5h0M349.9 863.6h0M376.9 872.7h0M372.3 875.1h0M356.5 854.8h0M368.7 851h0M342.1 861.9h0M352.2 839.5h0M332.2 816.6h0M342.7 851.2h0M355.7 854.3h0M342.8 835.1h0M324.5 848.9h0M347.8 856h0M349.5 867.7h0M374.4 871.1h0M323 842h0M344.3 851.1h0M348.8 868h0M362.9 865h0M351.2 856.3h0M351.9 868.2h0M359.3 858.1h0M346.8 806.2h0M362.2 873h0M344.3 836.7h0M347.2 859.8h0M342.4 864.1h0M317.2 804.8h0M345 841.9h0M365.7 860.1h0M367.1 848.4h0M377 870.4h0M350.7 831h0M361.9 869h0M339 856.2h0M324.1 864.9h0M359.1 826.9h0M300.4 840h0M308.2 856.9h0M356.2 836.5h0M361.4 874.7h0M360.9 856.4h0M349.5 824.3h0M359.9 867.4h0M356.9 854.3h0M327 849.3h0M368.6 870.2h0M356.7 839.3h0M365.2 871.9h0M333.6 830.2h0M366.9 875h0M367.8 875.1h0M373.8 871.3h0M313 852.3h0M356.6 864.6h0M344.5 810.4h0M326.8 804.2h0M317.8 863.7h0M358.4 874.2h0M337.8 840.6h0M368 877.8h0M340.8 864.7h0M353.6 869.8h0M372.3 864.8h0M335 835.4h0M368 828.8h0M340.8 870.9h0M365.5 874.8h0M344.7 861.1h0M372.3 875.4h0M369.7 863.4h0M355.8 845.6h0M339.1 868.1h0M354.4 839.5h0M359.1 845.4h0M357.3 860.9h0M342 866.5h0M364.5 869h0M352.6 870.9h0M356 874.8h0M343.4 838.1h0M370.9 878.2h0M334.3 849.6h0M363.3 866.7h0M342 802.5h0M373.8 869.8h0M361.3 847h0M337 864.7h0M313.6 845.9h0M354.5 861.9h0M357.9 855.7h0M374.1 864.8h0M363.6 871.4h0M357.7 871.1h0M340 870.9h0M368.2 843.6h0M342.1 818.1h0M342.4 866.3h0M352.6 836.3h0M356.1 839.8h0M368.5 846.4h0M357.8 851.4h0M364.2 853.7h0M373.7 859.4h0M360.1 857.5h0M317.8 855.6h0M338.7 866.6h0M300.8 861.3h0M324.1 823.8h0M325.5 863.9h0M357.8 839.7h0M370.5 868.7h0M354.3 857.3h0M352.7 816.5h0M310.9 863.1h0M368.2 863.2h0M343.8 869.3h0M334.4 857.4h0M378.6 878.2h0M366.1 867.5h0M337.2 822.8h0M375.2 878.4h0M347.8 869.1h0M331.7 810.3h0M306.8 835.2h0M367.5 864.9h0M368.4 867.5h0M352.6 833.8h0M312 823.5h0M366.1 876.8h0M373.6 864.3h0M339.2 822.1h0M354.6 869h0M350.2 866.9h0M345.2 872.2h0M321.4 852.8h0M370.8 875.1h0M362 860.7h0M337.8 866.9h0M355.7 866.9h0M372.4 869.3h0M367.9 865h0M355.9 874.9h0M338.6 803.8h0M345.9 851.1h0M344.3 816.7h0M321.4 861.4h0M361.8 871.3h0M357.6 859.7h0M344 862.4h0M292.5 856.8h0M322.3 818.5h0M301.7 855.3h0M303.5 836.9h0M346.6 822.7h0M360.8 844.3h0M311.7 856.8h0M355 824h0M370.3 865.6h0M362.5 814.1h0M342.5 799h0M351.6 845.7h0M341.5 867.2h0M369.4 838.8h0M335.3 839.2h0M356.8 862.1h0M352.2 845.5h0M361.5 859.1h0M343.1 871.1h0M361.1 840.9h0M328 848.2h0M336.1 868.3h0M364.9 861.9h0M352.3 801.3h0M346.5 820.2h0M361.5 849.1h0M328.4 864h0M361.1 800.4h0M341.3 858.6h0M318.6 843.7h0M337.7 862.5h0M360.9 871.9h0M369.4 875.1h0M341.3 833h0M349.8 846.3h0M370.9 876h0M349.6 853.6h0M367.3 855.3h0M366.5 827.8h0M367.6 871.9h0M372.3 851.8h0M338.1 847.3h0M374.2 874.6h0M337.4 867.9h0M320.2 843.2h0M329.3 856.1h0M361.9 862.9h0M347.8 857.8h0M367.2 864.2h0M349.9 831.9h0M355.8 847.5h0M353.9 867.2h0M372.4 870.3h0M338 868.7h0M319.1 818h0M348.3 826h0M324.7 852.3h0M362.4 844.8h0M316.7 850.1h0M351.9 833.6h0M329.2 793.2h0M336.1 859.7h0M352.9 833.9h0M334.8 867.5h0M345.2 853.5h0M319.9 858.1h0M321.1 860.6h0M336.4 856.6h0M359.8 849.1h0M346.8 863.2h0M358.2 849.7h0M349.6 871.2h0M323.6 834.5h0M364.5 836.3h0M344.1 796.1h0M349.8 831.4h0M376.9 867.7h0M317.6 851h0M365.5 866.3h0M313.1 823h0M358.2 826.7h0M363.5 847.5h0M331.3 829.7h0M304.5 839.5h0M346.1 869.7h0M372.9 870.3h0M346.9 868.7h0M336 812.8h0M310.9 853h0M320.7 792.2h0M366.4 869.9h0M343.6 826.2h0M364.3 859.3h0M366.6 855.8h0M366.2 851.2h0M344.3 808.3h0M369.5 839.9h0M368.6 877.7h0M350.1 872.8h0M341.2 861.5h0M337.8 851.9h0M356.9 851.6h0M367.9 838h0M332.3 849.1h0M363.5 854.8h0M304.1 818.4h0M325.9 830.8h0M348.9 817.6h0M346.9 869.8h0M342.9 841.1h0M373.3 871.1h0M368.9 870.2h0M358.5 826.8h0M375 869.9h0M367.5 867.9h0M352.1 835h0M315.9 864.2h0M313.2 863.3h0M361.8 866h0M310.1 863.8h0M323.3 857.8h0M369.1 872.4h0M356.1 865.8h0M342.5 835h0M303.2 859.3h0M371.9 867.6h0M368.7 875.9h0M328.1 830.1h0M365.1 830.3h0M355.2 866.4h0M334.6 848.1h0M371.6 858.5h0M368.5 874.3h0M350.8 824.2h0M372.8 869.9h0M347.8 846.2h0M345.5 865h0M342.2 853.2h0M358.7 866.3h0M337.7 868.5h0M361.3 851.7h0M335.9 863.8h0M356.4 856.4h0M327.7 858.7h0M353.4 856.3h0M336.3 852.1h0M359.5 856h0M350.4 836.8h0M312.3 823.8h0M365.6 870.7h0M415.4 847.4h0M401.3 873.3h0M402.3 830.7h0M393 835h0M395.8 850.9h0M452.4 844.7h0M402.2 824.8h0M415.6 838.9h0M431.6 867.2h0M399.8 839.8h0M428.5 866.4h0M395.4 846.6h0M384.4 869h0M412.1 857h0M409 858h0M414 870.4h0M403.3 866.6h0M467.8 844.7h0M394.5 862.2h0M394.5 875.9h0M403.9 852.1h0M402.3 853.2h0M395.4 854.2h0M380.6 874.8h0M391.9 869.3h0M411.3 837.5h0M395.3 857.9h0M405.7 838.9h0M391.9 875.7h0M433.8 862.4h0M406.3 840.4h0M396 858h0M412.2 858.3h0M404.8 849.4h0M402.2 871.7h0M400.8 855.5h0M425 837.3h0M405.6 859.3h0M408.8 846.2h0M400.3 859.2h0M439.1 806.2h0M434.6 826.4h0M408.1 868.2h0M409.9 860.5h0M404.4 865.8h0M417.3 829.5h0M424.6 820.1h0M397.2 863.1h0M394 832.3h0M396.7 875.3h0M395.6 861.4h0M444 847.8h0M400.4 850.9h0M429 839.2h0M396.4 869.3h0M411.1 853.4h0M417.5 808.2h0M402.4 825h0M421.8 820.5h0M393.2 838.3h0M435.1 806.5h0M410.9 860h0M405.4 871.7h0M381.5 874.8h0M400.9 860.7h0M412.7 793.8h0M395.7 837.5h0M409.7 805.3h0M384.5 871.4h0M444.6 853h0M443.6 848.3h0M397.5 868.5h0M416.5 865.1h0M409.9 867.5h0M397.2 855.3h0M426.1 846.3h0M419.5 839.1h0M410.6 855.9h0M398.3 854.1h0M398 871.6h0M394.1 868.7h0M428.4 809.3h0M402.2 832.6h0M431 862.7h0M456.8 817.2h0M406.2 855h0M400.1 863.2h0M381.1 876.4h0M415.9 830.1h0M394 849.9h0M456.4 841.1h0M397.1 859.7h0M404.4 845.5h0M395.2 844.9h0M380 879.3h0M392 875.2h0M401 858h0M383.5 866.9h0M390.4 845.1h0M424.9 863.6h0M392.2 870.3h0M418.9 870.9h0M406.7 871h0M426.7 841.6h0M422.8 856.6h0M418.6 856.7h0M408.8 794.1h0M418.9 856.2h0M384.1 870.9h0M426.6 835.2h0M385.7 873.1h0M441.6 819.3h0M388 863.7h0M447.6 848.2h0M384.8 876.3h0M402.7 844.6h0M401.7 864h0M419.1 851h0M406.4 873h0M456.2 849.4h0M403.8 837.3h0M406.1 837.4h0M408.5 868.3h0M400.4 863h0M439.3 810h0M387 847.9h0M418 803h0M408.2 816.3h0M399.2 862.4h0M384.4 875.5h0M427.3 869h0M399.1 847.7h0M402.9 869.8h0M401.8 851.9h0M389.6 857.4h0M432.9 861.3h0M446.8 862.7h0M420.3 826.9h0M394.2 874.3h0M428.1 861.7h0M419.1 819.4h0M388.4 852.6h0M391.9 844.5h0M392.3 871.4h0M386.4 853.9h0M390.7 848h0M389.8 841.5h0M394.8 804.9h0M443.2 840.8h0M415.5 868.6h0M410 869.8h0M444.7 857.3h0M430.3 857.6h0M390.7 862.6h0M402.2 848.2h0M410.5 859.9h0M436.2 804.3h0M388.4 847.9h0M457 825.6h0M410 793.2h0M458.9 846.7h0M420.8 835.3h0M389.5 852.8h0M397.8 852.3h0M400.2 874h0M412.6 834.9h0M391.5 874h0M390.5 856.4h0M402.6 873.7h0M405.9 847.8h0M393.9 847.2h0M426.9 847.6h0M416.3 843.8h0M386.5 861.9h0M400 865.3h0M406.8 824.1h0M399.5 844.4h0M409.6 867.2h0M404.2 867.8h0M438.6 830.5h0M404 858h0M403.2 868.4h0M437.9 823.6h0M386 877.7h0M396.7 848.1h0M427 867h0M393.7 861.3h0M390.8 850.2h0M439 844.1h0M396.1 827.7h0M404.1 861.8h0M417.2 836.7h0M438.1 819.3h0M429 867.5h0M458 858.5h0M391.1 866.4h0M442.2 823.4h0M384.2 869.6h0M425.3 861.8h0M408.8 872.5h0M381.9 876.5h0M444.7 858h0M426.8 865.2h0M414.4 828h0M426.5 859.1h0M407.2 839.9h0M408.9 866.6h0M386.2 863.3h0M457.9 816.7h0M418.9 867.1h0M386.8 849.2h0M397.9 863.6h0M400 867.2h0M391.3 833.6h0M412.3 858.1h0M389.6 869.8h0M402 860h0M400.9 840.4h0M438.4 855.5h0M423.5 868.7h0M456.1 848.8h0M383.3 871.4h0M415 851.3h0M401.3 863.9h0M404.8 854.3h0M419.6 865.7h0M394.3 855.9h0M419.3 835.1h0M446.3 858.8h0M418.9 820.5h0M416.4 796.7h0M412.5 857.9h0M400.3 851.4h0M410.7 871.6h0M425.5 869.2h0M423.3 837.1h0M459.2 854.2h0M411.3 857.6h0M387.4 876.4h0M433.7 862h0M417.4 858.9h0M400.5 867.4h0M400.6 834.4h0M436.9 858h0M423.9 844.7h0M404.3 871.5h0M442.3 814.2h0M411.3 851.1h0M385.3 859.7h0M408.1 864.4h0M390.3 858.7h0M444.7 859.4h0M384.6 870.6h0M416.9 840.9h0M413.3 834.3h0M416.6 865.1h0M402.9 795.6h0M420.7 821.7h0M439.3 828.6h0M419.3 858.7h0M383.8 866.7h0M402.6 839.3h0M397.4 867.7h0M414.6 861.2h0M414.3 865.9h0M394.5 871.5h0M422 867.9h0M390.3 854.4h0M420.5 853.6h0M397 821.2h0M403.8 838.1h0M424.4 832.1h0M443.6 855.4h0M389.9 841.7h0M388.6 871.9h0M404.6 842.2h0M387 875.7h0M380.3 879.1h0M404.4 838.1h0M385.9 861.8h0M427.3 869.2h0M405.5 828.7h0M401.3 873.1h0M393.3 849.3h0M387 871.7h0M396.3 867.3h0M387.3 839.7h0M404.9 834.9h0M432.9 793.7h0M459.3 853.2h0M388.6 865h0M391.5 860.6h0M388.4 853.7h0M393.2 860.1h0M384.7 870.7h0M447.6 825.3h0M422.4 836.5h0M394.6 838.9h0M392.6 868.9h0M389.6 876h0M397.3 844.4h0M382 875.5h0M420.4 819h0M431.2 867.8h0M438.8 818.5h0M416 872h0M438.1 858h0M401 868.5h0M444.1 830.9h0M386.3 878.2h0M400 850.9h0M438.3 833.3h0M413 859h0M440.4 850.9h0M401.4 875h0M386.5 875.3h0M436.3 852.2h0M426.5 869.1h0M425 845.4h0M406.3 872.7h0M428.6 849.1h0M449.1 850.4h0M440.4 832.2h0M432.8 847.8h0M407.7 802.4h0M393.2 867.4h0M391.8 827.9h0M408.7 818.6h0M395.4 850.9h0M411.5 844.4h0M405.2 860.5h0M421.9 847.8h0M392.3 840.7h0M392.3 854.9h0M402.1 869h0M392.9 873h0M401.7 844.4h0M402.8 858.6h0M399.4 872h0M465.1 846.9h0M430.4 829.2h0M406.6 833.9h0M407.5 873.3h0M435.1 848h0M403 852.6h0M394.3 841.1h0M385.3 860.9h0M401.4 855.4h0M382 874.2h0M405 874h0M417.9 796.6h0M405.8 874.2h0M410.4 860.1h0M413.9 858.1h0M409.5 825.3h0M420.1 848.4h0M461.4 852.7h0M430.3 857h0M394.6 874.4h0M415 848.2h0M394.1 846.5h0M398.1 871h0M443.1 852.8h0M386.1 860.2h0M453.4 850.3h0M393.4 832.8h0M385.8 878.6h0M398.6 815.3h0M409.6 856.8h0M389.9 843.8h0M447.4 841.2h0M423 864.2h0M443.8 857.4h0M432.6 856.8h0M386.5 877.1h0M389.4 839.5h0M403.8 831.7h0M441.1 859.2h0M402.8 869.8h0M385.8 859.7h0M430.5 846.3h0M435 816.6h0M393 870.5h0M394.7 855.6h0M391 851.6h0M416.1 821.2h0M393 859.4h0M391.6 854.4h0M409.1 863.1h0M421.5 855.3h0M402.2 848.6h0M395.2 840.1h0M389.1 876.6h0M419.2 833.4h0M392.8 845.6h0M382.8 879.6h0M383.7 878.9h0M403.8 827.6h0M390.4 871.1h0M394.9 854.4h0M428.3 858.9h0M386.9 851.4h0M439.3 853.9h0M409.1 839.4h0M394.1 847.2h0M402.9 847.7h0M410.6 867h0M416.3 845.4h0M391.9 829.3h0M394.5 859.6h0M397.9 818.4h0M405.4 851.9h0M382.9 869.1h0M439.7 825.5h0M411 817.5h0M440.2 855.9h0M410.5 820.9h0M409.1 842h0M392.1 836.7h0M433.7 851h0M402.1 873.5h0M395.2 840.6h0M393.5 845.8h0M406.2 858.2h0M388.3 865.3h0M396 876.1h0M402 854.3h0M444.3 847.6h0M424.9 868.7h0M420.4 870.7h0M437.4 840.2h0M400.6 866.2h0M410.8 865.2h0M423 837.6h0M452.1 861.8h0M449.7 845.4h0M404.9 859.6h0M413.5 865.5h0M465.4 853.6h0M393.3 866.5h0M384.8 856.5h0M386.8 878.7h0M393.8 867.8h0M397 830.7h0M412.5 856.8h0M388.9 854.5h0M423.5 853.3h0M436.8 848.2h0M395.8 873.9h0M409.3 827.1h0M383.3 868.5h0M422.1 840.3h0M396 860.4h0M424.4 865.7h0M408.3 872.3h0M399 836.4h0M396.8 847.5h0M392 863.3h0M387.7 851.9h0M407.5 839.2h0M412.9 842.7h0M411.3 855.4h0M407.7 873.6h0M421.9 818.2h0M461.5 858.9h0M381.9 874.1h0M402.9 844.1h0M427.2 858.5h0M402.8 833.2h0M433.4 832.1h0M409.1 846.4h0M381.3 879.1h0M397.1 813.3h0M394.4 838.1h0M400.6 834h0M384.2 869.5h0M438.7 796.5h0M420.4 830.5h0M418.2 844.9h0M388.9 849.4h0M447.5 851.8h0M443.1 830.5h0M399.1 872h0M413.6 864.7h0M389.7 831.3h0M382.4 868.9h0M392.3 868.1h0M407.4 854.5h0M400.5 849.6h0M387.6 870h0M385.1 853.9h0M388.5 869.6h0M423.6 863.3h0M409.2 822.9h0M406.6 808.4h0M384.7 863.7h0M393.1 825.9h0M432.9 855.7h0M414 845.2h0M389.1 877.5h0M299.4 829.9h0M309.2 838.5h0M306.3 867.5h0M273.4 862.4h0M286.9 846.2h0M294.9 856.6h0M305.4 841.3h0M296 845.5h0M293.9 856.5h0M273.1 844.6h0M303.1 851.8h0M310.6 849.3h0M308.3 866h0M290.4 848.3h0M302.5 846.3h0M298.4 841h0M309 834.9h0M292.8 864.4h0M299.3 844.3h0M307.3 831.7h0M302.1 853.9h0M308.2 851.9h0M303.9 847.9h0M302.2 845.4h0M282.8 833.7h0M278.2 834.3h0" stroke="#000" stroke-width="5.3" stroke-linecap="round" fill="none"/>
<path d="M217.5 582.8h0M204 650.7h0M341.5 686.6h0M244.7 721.2h0M331 721.2h0M340.2 742.7h0M424.5 582.3h0M459.1 582.3h0M431.2 607.4h0M438.3 624.5h0M410.8 665.8h0M427.8 686.2h0M442.5 683.8h0M450.6 686.2h0M444.9 706.6h0M441.1 716.5h0M421.2 723.7h0M428.8 723.7h0M426.9 755.9h0M300.8 761.9h0M265.7 773.7h0M300.8 774.2h0M314.3 773.7h0M318.7 775h0M328.8 773.7h0M331.9 773.7h0M344.1 773.7h0M348.5 773.7h0M336.2 783.8h0M396.5 769.4h0M481.9 774.2h0M447.8 774.2h0M401.7 774h0M406 771.5h0M410 774.5h0M414.5 770h0M418.5 773.5h0M422.5 776h0M427 772.5h0M431 776.5h0M435.5 774h0M441 775.5h0M452 774.2h0M409 783h0M413.5 780.5h0M419 786h0M424 781.5h0M430 783.5h0M416 777.5h0M437 781h0" stroke="#f00" stroke-width="5.3" stroke-linecap="round" fill="none"/>
<g font-family='"Liberation Sans", sans-serif' font-size="23.4" fill="#000">
<text x="67.2" y="1158.3" textLength="253.5" lengthAdjust="spacingAndGlyphs">Total identified proteins</text>
<text x="167.2" y="1333.2" textLength="54" lengthAdjust="spacingAndGlyphs">DRPs</text>
<text x="75.1" y="1500.9" textLength="54" lengthAdjust="spacingAndGlyphs">DRPs</text>
</g>
<text transform="translate(327.0 1149.4) scale(.605 1)" x="0" y="14.2" font-family='"DejaVu Sans Light", "DejaVu Sans", sans-serif' font-weight="200" font-size="47" fill="#000">→</text>
<text transform="translate(227.5 1323.9) scale(.605 1)" x="0" y="14.2" font-family='"DejaVu Sans Light", "DejaVu Sans", sans-serif' font-weight="200" font-size="47" fill="#000">→</text>
<text transform="translate(135.3 1491.5) scale(.605 1)" x="0" y="14.2" font-family='"DejaVu Sans Light", "DejaVu Sans", sans-serif' font-weight="200" font-size="47" fill="#000">→</text>
<!-- venn: total identified proteins -->
<g font-family='"Liberation Serif", serif' font-weight="bold" font-size="18" text-anchor="middle">
<text x="468" y="1050.8" fill="#1212f2">Cumulus cells</text><text x="616.6" y="1050.8" fill="#808000">Oocytes</text></g>
<circle cx="486.0" cy="1152.8" r="85.2" fill="#0000ff" fill-opacity=".5"/>
<circle cx="598.3" cy="1152.8" r="85.2" fill="#ffff00" fill-opacity=".5"/>
<g fill="none" stroke="#000" stroke-opacity=".85" stroke-width="1.3"><circle cx="486.0" cy="1152.8" r="85.2"/><circle cx="598.3" cy="1152.8" r="85.2"/></g>
<g font-family='"Liberation Serif", serif' font-weight="bold" fill="#111" text-anchor="middle">
<text x="468.5" y="1152.4" font-size="18">1024</text>
<text x="468.5" y="1165.6" font-size="14.6">(46.4%)</text>
<text x="542.0" y="1152.4" font-size="18">679</text>
<text x="542.0" y="1165.6" font-size="14.6">(30.7%)</text>
<text x="616.2" y="1152.4" font-size="18">506</text>
<text x="616.2" y="1165.6" font-size="14.6">(22.9%)</text>
</g>
<!-- venn: DRPs -->
<circle cx="482.9" cy="1336.3" r="87.0" fill="#0000ff" fill-opacity=".5"/>
<circle cx="596.5" cy="1336.3" r="87.0" fill="#ffff00" fill-opacity=".5"/>
<g fill="none" stroke="#000" stroke-opacity=".85" stroke-width="1.3"><circle cx="482.9" cy="1336.3" r="87.0"/><circle cx="596.5" cy="1336.3" r="87.0"/></g>
<g font-family='"Liberation Serif", serif' font-weight="bold" fill="#111" text-anchor="middle">
<text x="463.8" y="1335.2" font-size="18">82</text>
<text x="463.8" y="1348.5" font-size="14.6">(60.3%)</text>
<text x="539.8" y="1335.2" font-size="18">4</text>
<text x="539.8" y="1348.5" font-size="14.6">(2.9%)</text>
<text x="614.6" y="1335.2" font-size="18">50</text>
<text x="614.6" y="1348.5" font-size="14.6">(36.8%)</text>
</g>
<!-- venn: DRPs up / down -->
<ellipse cx="300.5" cy="1713.8" rx="209.5" ry="100.0" transform="rotate(45 300.5 1713.8)" fill="#0000ff" fill-opacity=".33"/>
<ellipse cx="389.0" cy="1662.0" rx="209.5" ry="100.0" transform="rotate(45 389.0 1662.0)" fill="#ffff00" fill-opacity=".33"/>
<ellipse cx="409.5" cy="1662.0" rx="209.5" ry="100.0" transform="rotate(-45 409.5 1662.0)" fill="#00ff00" fill-opacity=".33"/>
<ellipse cx="497.5" cy="1713.8" rx="209.5" ry="100.0" transform="rotate(-45 497.5 1713.8)" fill="#ff0000" fill-opacity=".33"/>
<g fill="none" stroke="#000" stroke-opacity=".85" stroke-width="1.3">
<ellipse cx="300.5" cy="1713.8" rx="209.5" ry="100.0" transform="rotate(45 300.5 1713.8)"/>
<ellipse cx="389.0" cy="1662.0" rx="209.5" ry="100.0" transform="rotate(45 389.0 1662.0)"/>
<ellipse cx="409.5" cy="1662.0" rx="209.5" ry="100.0" transform="rotate(-45 409.5 1662.0)"/>
<ellipse cx="497.5" cy="1713.8" rx="209.5" ry="100.0" transform="rotate(-45 497.5 1713.8)"/>
</g>
<g font-family='"Liberation Serif", serif' font-weight="bold" fill="#111" text-anchor="middle">
<text x="311.0" y="1536.0" font-size="16">33</text>
<text x="311.0" y="1548.1" font-size="12">(24.3%)</text>
<text x="486.1" y="1536.0" font-size="16">31</text>
<text x="486.1" y="1548.1" font-size="12">(22.8%)</text>
<text x="267.2" y="1601.2" font-size="16">0</text>
<text x="267.2" y="1613.3" font-size="12">(0%)</text>
<text x="398.6" y="1597.2" font-size="16">2</text>
<text x="398.6" y="1609.3" font-size="12">(1.5%)</text>
<text x="531.1" y="1601.2" font-size="16">0</text>
<text x="531.1" y="1613.3" font-size="12">(0%)</text>
<text x="208.8" y="1660.7" font-size="16">49</text>
<text x="208.8" y="1672.8" font-size="12">(36%)</text>
<text x="326.7" y="1675.3" font-size="16">0</text>
<text x="326.7" y="1687.4" font-size="12">(0%)</text>
<text x="470.4" y="1675.3" font-size="16">0</text>
<text x="470.4" y="1687.4" font-size="12">(0%)</text>
<text x="589.5" y="1660.7" font-size="16">19</text>
<text x="589.5" y="1672.8" font-size="12">(14%)</text>
<text x="398.5" y="1740.7" font-size="16">0</text>
<text x="398.5" y="1752.8" font-size="12">(0%)</text>
<text x="288.8" y="1755.9" font-size="16">2</text>
<text x="288.8" y="1768.0" font-size="12">(1.5%)</text>
<text x="508.3" y="1755.9" font-size="16">0</text>
<text x="508.3" y="1768.0" font-size="12">(0%)</text>
<text x="354.7" y="1793.9" font-size="16">0</text>
<text x="354.7" y="1806.0" font-size="12">(0%)</text>
<text x="442.3" y="1793.9" font-size="16">0</text>
<text x="442.3" y="1806.0" font-size="12">(0%)</text>
<text x="398.5" y="1837.1" font-size="16">0</text>
<text x="398.5" y="1849.2" font-size="12">(0%)</text>
</g>
<g font-family='"Liberation Serif", serif' font-weight="bold" font-size="17.4" text-anchor="middle">
<text x="282.3" y="1462.6" fill="#808000">Cumulus Up</text><text x="516.1" y="1462.6" fill="#008000">Oocyte Up</text>
<text x="207.2" y="1872.3" fill="#1212f2">Cumulus Down</text><text x="589.9" y="1872.3" fill="#f01414">Oocyte Down</text></g>
</svg></body></html>
